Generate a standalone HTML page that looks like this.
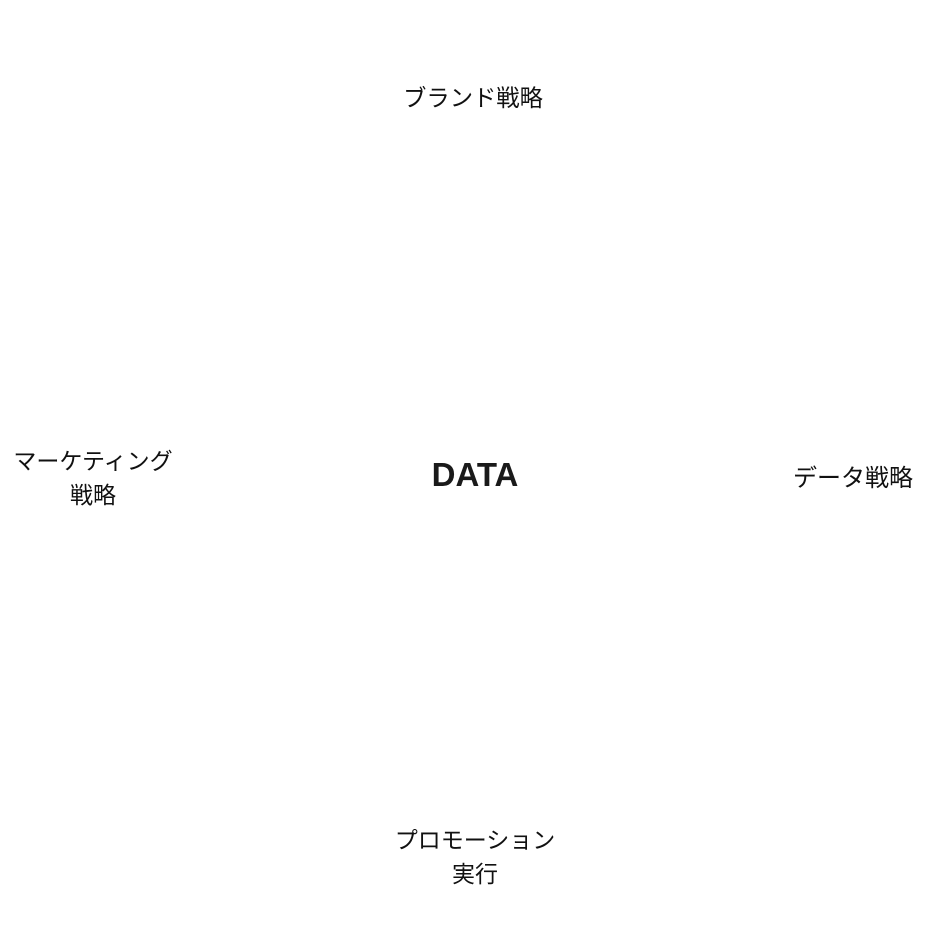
<!DOCTYPE html>
<html><head><meta charset="utf-8"><style>
html,body{margin:0;padding:0;background:#fff;}
body{width:948px;height:948px;position:relative;overflow:hidden;font-family:"Liberation Sans","Noto Sans CJK JP",sans-serif;color:#111;}
.t{position:absolute;width:300px;text-align:center;font-size:23px;line-height:34px;white-space:nowrap;}
.d{position:absolute;width:300px;text-align:center;font-size:33px;font-weight:bold;line-height:40px;color:#1a1a1a;}
</style></head><body>
<div class="t" style="left:323px;top:81px;font-size:23.3px;">ブランド戦略</div>
<div class="t" style="left:-57px;top:444px;">マーケティング<br>戦略</div>
<div class="d" style="left:325px;top:455px;">DATA</div>
<div class="t" style="left:703px;top:462px;font-size:24px;">データ戦略</div>
<div class="t" style="left:325px;top:823px;">プロモーション<br>実行</div>
</body></html>
